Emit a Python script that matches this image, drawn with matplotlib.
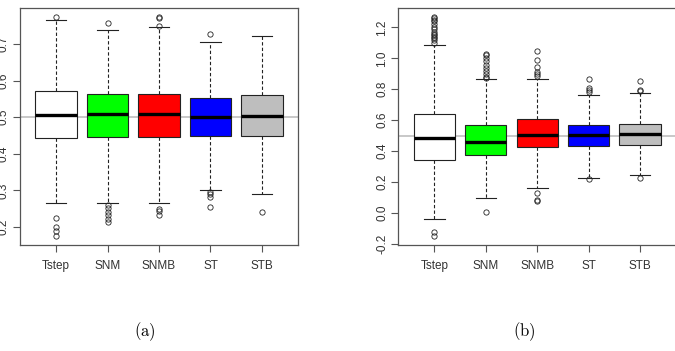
import matplotlib
matplotlib.use("Agg")
import matplotlib.pyplot as plt
from matplotlib.ticker import FormatStrFormatter

plt.rcParams['axes.unicode_minus'] = False
plt.rcParams['mathtext.fontset'] = 'cm'

metodos = ["Tstep", "SNM", "SNMB", "ST", "STB"]
colores = ["white", "#00ff00", "#ff0000", "#0000ff", "#bebebe"]

# panel (a): bigotes, cuartiles, mediana, atipicos
a_whislo = [0.267, 0.267, 0.265, 0.300, 0.290]
a_q1 = [0.443, 0.446, 0.446, 0.449, 0.449]
a_med = [0.506, 0.508, 0.509, 0.501, 0.504]
a_q3 = [0.572, 0.563, 0.563, 0.553, 0.561]
a_whishi = [0.766, 0.738, 0.745, 0.704, 0.721]
a_fliers = [
    [0.773, 0.224, 0.201, 0.189, 0.175],
    [0.757, 0.260, 0.252, 0.240, 0.232, 0.221, 0.213],
    [0.773, 0.770, 0.749, 0.249, 0.243, 0.232],
    [0.727, 0.296, 0.290, 0.283, 0.255],
    [0.241],
]

# panel (b)
b_whislo = [-0.039, 0.095, 0.159, 0.230, 0.249]
b_q1 = [0.344, 0.376, 0.424, 0.434, 0.443]
b_med = [0.484, 0.460, 0.505, 0.503, 0.510]
b_q3 = [0.641, 0.572, 0.606, 0.568, 0.576]
b_whishi = [1.086, 0.867, 0.865, 0.763, 0.774]
b_fliers = [
    [1.27, 1.26, 1.25, 1.24, 1.22, 1.20, 1.19, 1.17, 1.16, 1.15, 1.14, 1.13, 1.12, 1.10,
     -0.125, -0.146],
    [1.03, 1.02, 1.00, 0.98, 0.96, 0.94, 0.92, 0.90, 0.88, 0.875, 0.004],
    [1.045, 0.987, 0.944, 0.91, 0.90, 0.884, 0.127, 0.084, 0.080],
    [0.869, 0.81, 0.794, 0.783, 0.222],
    [0.854, 0.798, 0.790, 0.230],
]

referencia = 0.5
gris_marco = "#555555"


def caja(ax, whislo, q1, med, q3, whishi, fliers, ylim, yticks):
    stats = []
    for i in range(len(metodos)):
        stats.append({'whislo': whislo[i], 'q1': q1[i], 'med': med[i], 'q3': q3[i],
                      'whishi': whishi[i], 'fliers': fliers[i], 'label': metodos[i]})
    ax.axhline(referencia, color="#c4c4c4", lw=1.3, zorder=0)
    bp = ax.bxp(stats, positions=range(1, 6), widths=0.8, capwidths=0.4,
                patch_artist=True, showfliers=True,
                boxprops=dict(edgecolor="#222222", linewidth=0.8),
                medianprops=dict(color="black", linewidth=2.4, solid_capstyle='butt'),
                whiskerprops=dict(color="#222222", linewidth=0.8, linestyle=(0, (3, 2))),
                capprops=dict(color="#222222", linewidth=0.8),
                flierprops=dict(marker='o', markersize=3.8, markerfacecolor='none',
                                markeredgecolor="#222222", markeredgewidth=0.6))
    for p, c in zip(bp['boxes'], colores):
        p.set_facecolor(c)
        p.set_zorder(2)
    ax.set_xlim(0.3, 5.7)
    ax.set_ylim(*ylim)
    ax.set_yticks(yticks)
    ax.yaxis.set_major_formatter(FormatStrFormatter('%.1f'))
    for s in ax.spines.values():
        s.set_color(gris_marco)
        s.set_linewidth(0.9)
    ax.tick_params(axis='both', colors=gris_marco, length=5, width=0.8,
                   labelsize=8.5, labelcolor="#333333")
    ax.tick_params(axis='x', pad=5.5)
    ax.tick_params(axis='y', labelrotation=90, pad=2.5)
    for l in ax.get_yticklabels():
        l.set_va('center')
    for l in ax.get_xticklabels():
        l.set_fontfamily('Liberation Sans')
    for l in ax.get_yticklabels():
        l.set_fontfamily('Liberation Sans')


fig = plt.figure(figsize=(6.75, 3.51), dpi=100)
ax1 = fig.add_axes([20 / 675, 1 - 245 / 351, 278 / 675, 237 / 351])
ax2 = fig.add_axes([398.5 / 675, 1 - 245 / 351, 277.5 / 675, 237 / 351])

caja(ax1, a_whislo, a_q1, a_med, a_q3, a_whishi, a_fliers, (0.151, 0.798),
     [0.2, 0.3, 0.4, 0.5, 0.6, 0.7])
caja(ax2, b_whislo, b_q1, b_med, b_q3, b_whishi, b_fliers, (-0.206, 1.325),
     [-0.2, 0.0, 0.2, 0.4, 0.6, 0.8, 1.0, 1.2])

fig.text(145 / 675, 1 - 332 / 351, r'$\mathrm{(a)}$', ha='center', va='center', fontsize=12)
fig.text(524 / 675, 1 - 332 / 351, r'$\mathrm{(b)}$', ha='center', va='center', fontsize=12)

fig.savefig("out.png", dpi=100)
